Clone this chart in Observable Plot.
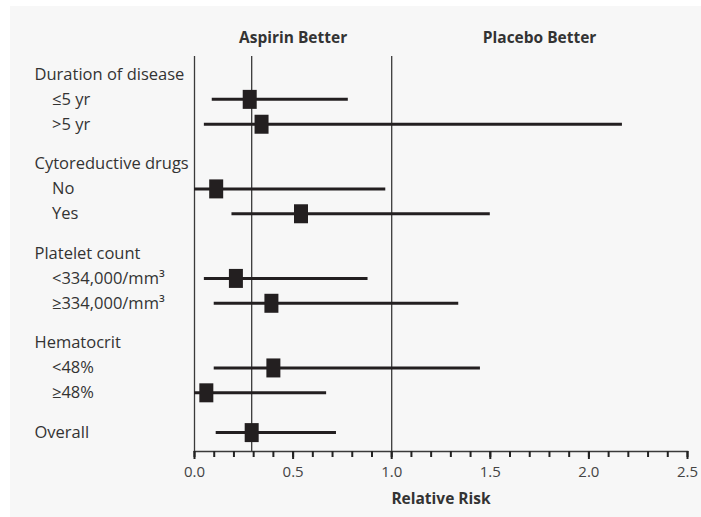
<!DOCTYPE html>
<html><head><meta charset="utf-8">
<script src="https://cdn.jsdelivr.net/npm/d3@7"></script>
<script src="https://cdn.jsdelivr.net/npm/@observablehq/plot@0.6"></script>
<style>
html,body{margin:0;padding:0;background:#fff;}
#chart{position:absolute;left:10px;top:6px;}
</style></head><body><div id="chart"></div>
<script>
// ---- data ----
const groupHeaders = ["Duration of disease", "Cytoreductive drugs", "Platelet count", "Hematocrit"];
const subgroupLabels = ["≤5 yr", ">5 yr", "No", "Yes", "<334,000/mm³", "≥334,000/mm³", "<48%", "≥48%", "Overall"];
const subgroupGroup = [0, 0, 1, 1, 2, 2, 3, 3, -1];
const relativeRisk = [0.28, 0.34, 0.11, 0.54, 0.21, 0.39, 0.40, 0.06, 0.29];
const ciLower      = [0.09, 0.05, 0.00, 0.19, 0.05, 0.10, 0.10, 0.00, 0.11];
const ciUpper      = [0.78, 2.17, 0.97, 1.50, 0.88, 1.34, 1.45, 0.67, 0.72];
const sideLabels = ["Aspirin Better", "Placebo Better"];
const sideCenters = [0.5, 1.75];
const majorTicks = [0, 0.5, 1.0, 1.5, 2.0, 2.5];
const minorTicks = d3.range(0, 26).map(d => d / 10);
const axisTitle = "Relative Risk";

// ---- row layout (order) ----
const rows = [];
let pos = 0, prev;
subgroupLabels.forEach((label, i) => {
  const g = subgroupGroup[i];
  if (i === 0 || g !== prev) {
    if (i > 0) pos += 0.6;
    if (g >= 0) { rows.push({label: groupHeaders[g], pos, header: true}); pos += 1; }
  }
  rows.push({label, pos, header: g < 0, rr: relativeRisk[i], lo: ciLower[i], hi: ciUpper[i]});
  pos += 1; prev = g;
});
const data = rows.filter(d => d.rr != null);
const overallRR = relativeRisk[subgroupLabels.indexOf("Overall")];

const W = 691, H = 511, mT = 50, mB = 66;
const frameH = H - mT - mB;
const ink = "#231f20";
const axisInk = "#222";
const rectSymbol = {draw(ctx) { ctx.rect(-7, -9.5, 14, 19); }};

const plot = Plot.plot({
  width: W, height: H,
  marginLeft: 184, marginRight: 14, marginTop: mT, marginBottom: mB,
  style: {background: "#f7f7f7", fontFamily: "'Open Sans', sans-serif", color: "#333"},
  x: {domain: [0, 2.5]},
  y: {domain: [15.16, -0.724], axis: null},
  marks: [
    Plot.ruleX([0, 1], {stroke: "#3a3a3a", strokeWidth: 1.3}),
    Plot.ruleX([overallRR], {stroke: "#3a3a3a", strokeWidth: 1.3}),
    Plot.frame({anchor: "bottom", stroke: "#3a3a3a", strokeWidth: 1.5}),
    Plot.tickX(minorTicks, {x: d => d, insetTop: frameH, insetBottom: -6, stroke: axisInk, strokeWidth: 2}),
    Plot.tickX(majorTicks, {x: d => d, insetTop: frameH, insetBottom: -8, stroke: axisInk, strokeWidth: 2}),
    Plot.axisX(majorTicks, {tickSize: 0, tickPadding: 15, tickFormat: d3.format(".1f"), fontSize: 15, fill: "#444", label: null}),
    Plot.ruleY(data, {y: "pos", x1: "lo", x2: "hi", stroke: ink, strokeWidth: 3}),
    Plot.dot(data, {x: "rr", y: "pos", symbol: rectSymbol, fill: ink, stroke: "none"}),
    Plot.text(rows.filter(d => d.header), {y: "pos", text: "label", frameAnchor: "left", dx: -160, textAnchor: "start", fontSize: 16.5, fill: "#333"}),
    Plot.text(rows.filter(d => !d.header), {y: "pos", text: "label", frameAnchor: "left", dx: -142.5, textAnchor: "start", fontSize: 16.5, fill: "#333"}),
    Plot.text(sideLabels, {x: (d, i) => sideCenters[i], text: d => d, frameAnchor: "top", dy: -24.5, fontWeight: "bold", fontSize: 15.5, fill: "#333"}),
    Plot.text([axisTitle], {text: d => d, frameAnchor: "bottom", dy: 52, fontWeight: "bold", fontSize: 15.5, fill: "#333"})
  ]
});
document.getElementById("chart").appendChild(plot);
</script></body></html>
